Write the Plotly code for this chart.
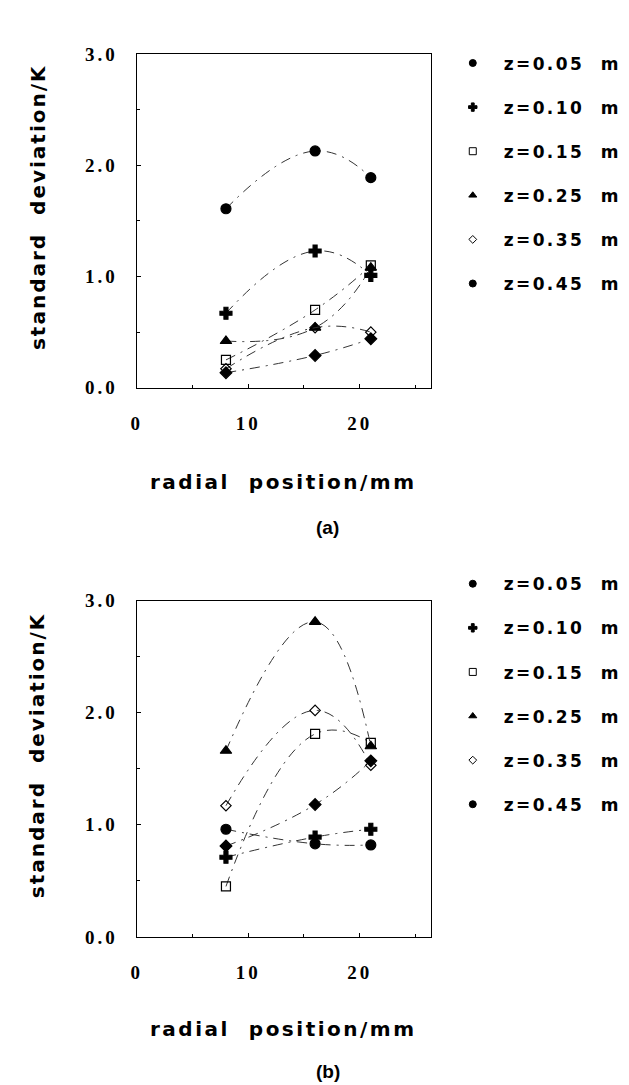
import plotly.graph_objects as go

# ---------------- data ----------------
radial_mm = [8, 16, 21]
series_names = ["z=0.05", "z=0.10", "z=0.15", "z=0.25", "z=0.35", "z=0.45"]
unit_label = "m"

a_z005 = [1.61, 2.13, 1.89]
a_z010 = [0.67, 1.23, 1.01]
a_z015 = [0.25, 0.70, 1.10]
a_z025 = [0.42, 0.54, 1.08]
a_z035 = [0.17, 0.54, 0.50]
a_z045 = [0.135, 0.29, 0.44]

b_z005 = [0.96, 0.83, 0.82]
b_z010 = [0.71, 0.89, 0.96]
b_z015 = [0.45, 1.81, 1.73]
b_z025 = [1.66, 2.81, 1.70]
b_z035 = [1.17, 2.02, 1.53]
b_z045 = [0.81, 1.18, 1.57]

y_tick_vals = [0, 1, 2, 3]
y_tick_text = ["0.0", "1.0", "2.0", "3.0"]
x_tick_vals = [0, 10, 20]
x_tick_text = ["0", "10", "20"]

panel_a = [a_z005, a_z010, a_z015, a_z025, a_z035, a_z045]
panel_b = [b_z005, b_z010, b_z015, b_z025, b_z035, b_z045]

# ---------------- styles ----------------
W, H = 629, 1085
NB = "\u00a0"
plot_symbols = ["circle", "cross", "square-open", "triangle-up", "diamond-open", "diamond"]
plot_sizes = [10, 10, 9, 10, 8, 9]
legend_symbols = ["circle", "cross", "square-open", "triangle-up", "diamond-open", "circle"]
legend_sizes = [7, 7, 7, 7, 6, 7]
LINE = dict(color="#333333", width=1, dash="10px,6px,2px,6px", shape="spline", smoothing=1.3)
SANS = "DejaVu Sans"

def sp(txt, ls=2):
    return '<span style="letter-spacing:%spx">%s</span>' % (ls, txt)

def px_x(p):
    return p / W

def px_y(p):
    return 1 - p / H

def legend_label(name):
    lead = '<span style="letter-spacing:5px">' + NB + '</span>'
    return lead + sp(name + NB + NB + unit_label, 2.4)

fig = go.Figure()

panels = [(panel_a, "x", "y", "legend"), (panel_b, "x2", "y2", "legend2")]
for data, xa, ya, lg in panels:
    for i, vals in enumerate(data):
        fig.add_trace(go.Scatter(
            x=radial_mm, y=vals, xaxis=xa, yaxis=ya, mode="lines+markers",
            line=LINE,
            marker=dict(symbol=plot_symbols[i], size=plot_sizes[i], color="black",
                        line=dict(color="black", width=1.2)),
            showlegend=False, cliponaxis=False,
        ))
    for i, name in enumerate(series_names):
        fig.add_trace(go.Scatter(
            x=[None], y=[None], xaxis=xa, yaxis=ya, mode="markers",
            name=legend_label(name), legend=lg, legendgroup=lg + str(i),
            marker=dict(symbol=legend_symbols[i], size=legend_sizes[i], color="black",
                        line=dict(color="black", width=1)),
            showlegend=True,
        ))

tickfont = dict(family="Liberation Serif", size=19, color="black", weight="bold")

def xaxis_cfg(anchor, dom):
    return dict(
        domain=dom, anchor=anchor, range=[0, 26.4],
        tickvals=x_tick_vals, ticktext=[sp(t, 3) for t in x_tick_text],
        ticks="inside", ticklen=4, tickcolor="black",
        minor=dict(dtick=5, tick0=0, ticks="inside", ticklen=3, tickcolor="black"),
        showline=True, linecolor="black", linewidth=1.3, mirror=True,
        showgrid=False, zeroline=False, tickfont=tickfont, ticklabelstandoff=18,
        fixedrange=True,
    )

def yaxis_cfg(anchor, dom):
    return dict(
        domain=dom, anchor=anchor, range=[0, 3.0],
        tickvals=y_tick_vals, ticktext=[sp(t, 3) for t in y_tick_text],
        ticks="inside", ticklen=4, tickcolor="black",
        minor=dict(dtick=0.5, tick0=0, ticks="inside", ticklen=3, tickcolor="black"),
        showline=True, linecolor="black", linewidth=1.3, mirror=True,
        showgrid=False, zeroline=False, tickfont=tickfont, ticklabelstandoff=14,
        fixedrange=True,
    )

legend_font = dict(family=SANS, size=17, color="black", weight="bold")
x_dom = [px_x(124), px_x(421)]
fig.update_layout(
    width=W, height=H,
    margin=dict(l=0, r=0, t=0, b=0),
    paper_bgcolor="white", plot_bgcolor="white",
    xaxis=xaxis_cfg("y", x_dom),
    yaxis=yaxis_cfg("x", [px_y(377), px_y(37)]),
    xaxis2=xaxis_cfg("y2", x_dom),
    yaxis2=yaxis_cfg("x2", [px_y(937), px_y(594)]),
    legend=dict(x=px_x(443), y=px_y(28), xanchor="left", yanchor="top",
                font=legend_font, tracegroupgap=19, bgcolor="rgba(0,0,0,0)",
                itemsizing="trace"),
    legend2=dict(x=px_x(443), y=px_y(559), xanchor="left", yanchor="top",
                 font=legend_font, tracegroupgap=19, bgcolor="rgba(0,0,0,0)",
                 itemsizing="trace"),
    showlegend=True,
)

title_font = dict(family=SANS, size=20, color="black", weight="bold")
ann = []
for (ytitle_c, xtitle_c, lab_c, lab) in [(193, 473, 520, "(a)"), (752, 1031, 1074, "(b)")]:
    ann.append(dict(xref="paper", yref="paper", x=px_x(24), y=px_y(ytitle_c),
                    text=sp("standard" + NB + NB + "deviation/K", 2), textangle=-90,
                    showarrow=False, font=title_font, xanchor="center", yanchor="middle"))
    ann.append(dict(xref="paper", yref="paper", x=px_x(272), y=px_y(xtitle_c),
                    text=sp("radial" + NB + NB + "position/mm", 2.5), showarrow=False,
                    font=title_font, xanchor="center", yanchor="middle"))
    ann.append(dict(xref="paper", yref="paper", x=px_x(317), y=px_y(lab_c),
                    text=lab, showarrow=False,
                    font=dict(family="Liberation Sans", size=19, color="black", weight="bold"),
                    xanchor="center", yanchor="middle"))
fig.update_layout(annotations=ann)

fig.write_html("out.html")
